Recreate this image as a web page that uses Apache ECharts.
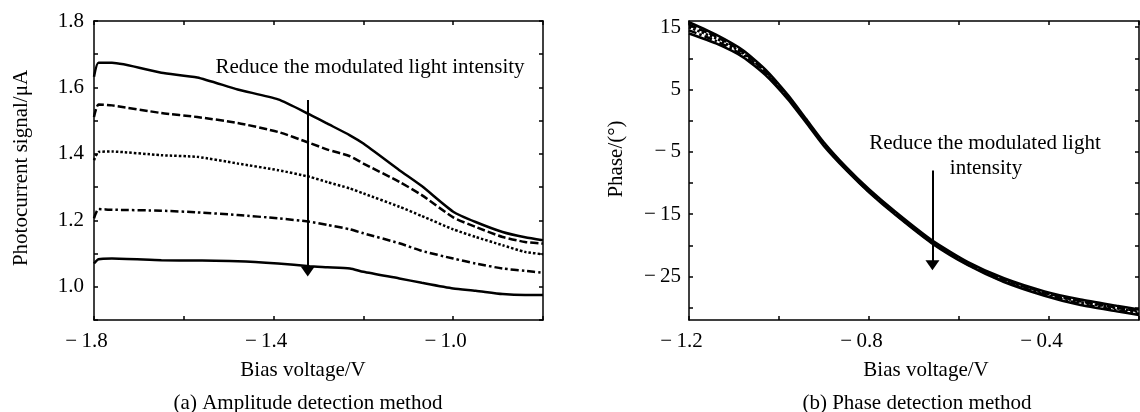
<!DOCTYPE html>
<html>
<head>
<meta charset="utf-8">
<script src="https://cdn.jsdelivr.net/npm/echarts@6/dist/echarts.min.js"></script>
<style>
  html, body { margin: 0; padding: 0; background: #fff; }
  #chart { width: 1140px; height: 412px; }
</style>
</head>
<body>
<div id="chart"></div>
<script>
// (a) amplitude detection: bias voltage (V) vs photocurrent (uA)
var ampBias = [-1.8, -1.79, -1.76, -1.65, -1.57, -1.48, -1.39, -1.32, -1.28, -1.23, -1.2, -1.12, -1.07, -1.0, -0.95, -0.89, -0.84, -0.8];
var ampCurve1 = [1.632, 1.674, 1.674, 1.644, 1.630, 1.594, 1.564, 1.519, 1.491, 1.456, 1.431, 1.351, 1.303, 1.226, 1.195, 1.165, 1.149, 1.140];
var ampCurve2 = [1.511, 1.549, 1.546, 1.523, 1.511, 1.493, 1.466, 1.433, 1.413, 1.393, 1.371, 1.316, 1.276, 1.209, 1.180, 1.150, 1.135, 1.130];
var ampCurve3 = [1.381, 1.406, 1.407, 1.396, 1.391, 1.371, 1.351, 1.331, 1.315, 1.296, 1.281, 1.241, 1.213, 1.173, 1.150, 1.125, 1.105, 1.098];
var ampCurve4 = [1.206, 1.234, 1.232, 1.229, 1.224, 1.216, 1.206, 1.196, 1.186, 1.173, 1.161, 1.131, 1.108, 1.085, 1.070, 1.055, 1.048, 1.042];
var ampCurve5 = [1.070, 1.083, 1.085, 1.080, 1.079, 1.077, 1.070, 1.062, 1.059, 1.055, 1.045, 1.025, 1.012, 0.995, 0.988, 0.978, 0.975, 0.975];

// (b) phase detection: bias voltage (V) vs phase (deg)
var phaseBias = [-1.2, -1.14, -1.08, -1.03, -0.98, -0.94, -0.9, -0.85, -0.8, -0.74, -0.66, -0.58, -0.5, -0.41, -0.33, -0.25, -0.2];
var phaseCurve1 = [15.8, 13.8, 11.3, 8.2, 4.1, 0.3, -3.5, -7.5, -11.0, -14.7, -19.2, -22.7, -25.3, -27.4, -28.7, -29.7, -30.3];
var phaseCurve2 = [15.4, 13.5, 11.0, 7.9, 3.9, 0.1, -3.7, -7.7, -11.2, -14.9, -19.4, -22.9, -25.5, -27.6, -29.0, -30.0, -30.6];
var phaseCurve3 = [15.0, 13.2, 10.8, 7.8, 3.8, 0.0, -3.8, -7.7, -11.2, -14.9, -19.4, -22.9, -25.6, -27.7, -29.1, -30.1, -30.7];
var phaseCurve4 = [14.5, 12.8, 10.5, 7.5, 3.6, -0.1, -3.9, -7.9, -11.4, -15.1, -19.6, -23.1, -25.8, -27.9, -29.4, -30.4, -31.0];
var phaseCurve5 = [14.0, 12.4, 10.2, 7.3, 3.4, -0.3, -4.1, -8.0, -11.5, -15.2, -19.7, -23.2, -25.9, -28.1, -29.6, -30.6, -31.2];

// ticks and labels
var ampXTicks = [-1.8, -1.6, -1.4, -1.2, -1.0, -0.8];
var ampXLabels = [-1.8, -1.4, -1.0];
var ampYTicks = [0.9, 1.0, 1.1, 1.2, 1.3, 1.4, 1.5, 1.6, 1.7, 1.8];
var ampYLabels = [1.0, 1.2, 1.4, 1.6, 1.8];
var phaseXTicks = [-1.2, -1.0, -0.8, -0.6, -0.4, -0.2];
var phaseXLabels = [-1.2, -0.8, -0.4];
var phaseYTicks = [-30, -25, -20, -15, -10, -5, 0, 5, 10, 15];
var phaseYLabels = [-25, -15, -5, 5, 15];

var FONT = '"Liberation Serif", "Times New Roman", serif';
var FS = 21;
var MINUS = '\u2212';

function pairs(xs, ys) {
    return xs.map(function (x, i) { return [x, ys[i]]; });
}

function fmtX(v) {
    var s = Math.abs(v).toFixed(1);
    return (v < 0 ? MINUS + '\u2009' : '') + s + '{p| }';
}

function fmtPhase(v) {
    var s = String(Math.abs(Math.round(v)));
    return (v < 0 ? MINUS + '\u2009' : '') + s;
}

function xAxisPair(grid, min, max, ticks, labels) {
    var tickLine = { show: true, inside: true, length: 4, customValues: ticks, lineStyle: { color: '#000', width: 1.5 } };
    var line = { show: true, onZero: false, lineStyle: { color: '#000', width: 1.5 } };
    return [{
        type: 'value', gridIndex: grid, position: 'bottom', min: min, max: max,
        axisLine: line, axisTick: tickLine, splitLine: { show: false },
        axisLabel: {
            customValues: labels, formatter: fmtX, margin: 11,
            color: '#000', fontFamily: FONT, fontSize: FS,
            rich: { p: { width: 15, fontSize: FS, fontFamily: FONT } }
        }
    }, {
        type: 'value', gridIndex: grid, position: 'top', min: min, max: max,
        axisLine: line, axisTick: tickLine, splitLine: { show: false },
        axisLabel: { show: false }
    }];
}

function yAxisPair(grid, min, max, ticks, labels, formatter, margin) {
    var tickLine = { show: true, inside: true, length: 4, customValues: ticks, lineStyle: { color: '#000', width: 1.5 } };
    var line = { show: true, onZero: false, lineStyle: { color: '#000', width: 1.5 } };
    return [{
        type: 'value', gridIndex: grid, position: 'left', min: min, max: max,
        axisLine: line, axisTick: tickLine, splitLine: { show: false },
        axisLabel: {
            customValues: labels, formatter: formatter, margin: margin,
            color: '#000', fontFamily: FONT, fontSize: FS
        }
    }, {
        type: 'value', gridIndex: grid, position: 'right', min: min, max: max,
        axisLine: line, axisTick: tickLine, splitLine: { show: false },
        axisLabel: { show: false }
    }];
}

function curve(xIdx, yIdx, xs, ys, dash, width) {
    return {
        type: 'line', xAxisIndex: xIdx, yAxisIndex: yIdx,
        data: pairs(xs, ys), showSymbol: false, symbol: 'none',
        smooth: 0.2,
        lineStyle: { color: '#000', width: width, type: dash },
        silent: true
    };
}

function arrow(x, yTop, yEnd) {
    return {
        silent: true, symbol: ['none', 'triangle'], symbolSize: [14, 10],
        label: { show: false },
        lineStyle: { color: '#000', width: 2, type: 'solid' },
        data: [[{ coord: [x, yTop] }, { coord: [x, yEnd] }]]
    };
}

function text(str, x, y, rot) {
    return {
        type: 'text', x: x, y: y, rotation: rot || 0, silent: true,
        style: {
            text: str, fill: '#000', font: FS + 'px ' + FONT,
            textAlign: 'center', textVerticalAlign: 'middle'
        }
    };
}

var DASHED = [8, 3];
var DOTTED = [2.5, 2];
var DASHDOT = [8, 3, 2.5, 3];

var chart = echarts.init(document.getElementById('chart'), null, { renderer: 'canvas' });

var series = [
    curve(0, 0, ampBias, ampCurve1, 'solid', 2.5),
    curve(0, 0, ampBias, ampCurve2, DASHED, 2.5),
    curve(0, 0, ampBias, ampCurve3, DOTTED, 2.5),
    curve(0, 0, ampBias, ampCurve4, DASHDOT, 2.5),
    curve(0, 0, ampBias, ampCurve5, 'solid', 2.5),
    curve(2, 2, phaseBias, phaseCurve1, 'solid', 2.5),
    curve(2, 2, phaseBias, phaseCurve2, DASHED, 2.5),
    curve(2, 2, phaseBias, phaseCurve3, DOTTED, 2.5),
    curve(2, 2, phaseBias, phaseCurve4, DASHDOT, 2.5),
    curve(2, 2, phaseBias, phaseCurve5, 'solid', 2.5)
];
series[0].markLine = arrow(-1.324, 1.562, 1.046);
series[5].markLine = arrow(-0.659, -8, -23.2);

chart.setOption({
    animation: false,
    backgroundColor: '#fff',
    grid: [
        { left: 94, top: 21, width: 449, height: 299 },
        { left: 689, top: 21, width: 450, height: 299 }
    ],
    xAxis: xAxisPair(0, -1.8, -0.8, ampXTicks, ampXLabels)
        .concat(xAxisPair(1, -1.2, -0.2, phaseXTicks, phaseXLabels)),
    yAxis: yAxisPair(0, 0.9, 1.8, ampYTicks, ampYLabels, function (v) { return v.toFixed(1); }, 10)
        .concat(yAxisPair(1, -32, 16, phaseYTicks, phaseYLabels, fmtPhase, 8)),
    series: series,
    graphic: [
        text('Photocurrent signal/\u03bcA', 21, 168, Math.PI / 2),
        text('Bias voltage/V', 303, 370),
        text('(a) Amplitude detection method', 308, 403),
        text('Reduce the modulated light intensity', 370, 67),
        text('Phase/(\u00b0)', 616, 159, Math.PI / 2),
        text('Bias voltage/V', 926, 370),
        text('(b) Phase detection method', 917, 403),
        text('Reduce the modulated light', 985, 143),
        text('intensity', 986, 168)
    ]
});
</script>
</body>
</html>
